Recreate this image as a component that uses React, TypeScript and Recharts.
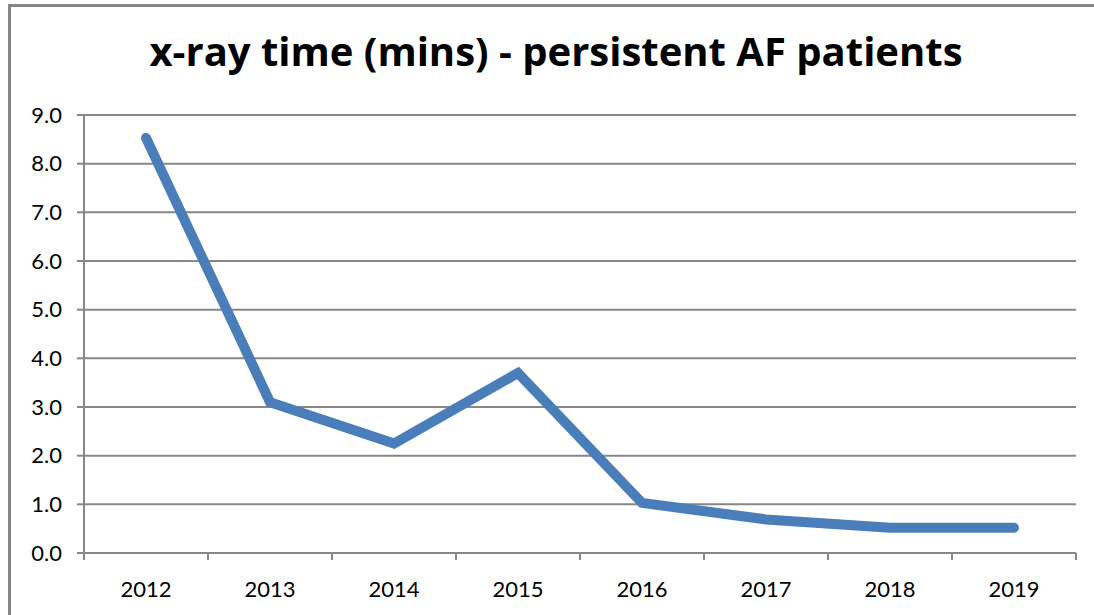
import { LineChart, Line, XAxis, YAxis, CartesianGrid } from 'recharts'

const years = ['2012', '2013', '2014', '2015', '2016', '2017', '2018', '2019']
const xrayMins = [8.53, 3.1, 2.25, 3.7, 1.03, 0.69, 0.52, 0.52]
const yTicks = [0, 1, 2, 3, 4, 5, 6, 7, 8, 9]

const data = years.map((y, i) => ({ year: y, mins: xrayMins[i] }))

const GRAY = '#878787'
const FONT = 'Lato, "Open Sans", sans-serif'

// category label plus tick marks on the band edges (Excel style)
const YearTick = (props: any) => {
  const { x, y, payload, index } = props
  const half = payload?.offset ?? 0
  const axisY = y - 28
  return (
    <g>
      <line x1={x - half} x2={x - half} y1={axisY} y2={axisY + 7} stroke={GRAY} strokeWidth={2} />
      {index === years.length - 1 && (
        <line x1={x + half} x2={x + half} y1={axisY} y2={axisY + 7} stroke={GRAY} strokeWidth={2} />
      )}
      <text x={x} y={y} dy="0.71em" textAnchor="middle" fill="#000" fontSize={22} fontFamily={FONT}>
        {payload.value}
      </text>
    </g>
  )
}

export default function App() {
  return (
    <div style={{ position: 'absolute', left: 0, top: 0, width: 1094, height: 615, overflow: 'hidden', background: '#fff' }}>
      {/* outer frame */}
      <div style={{ position: 'absolute', left: 8, top: 4, width: 1110, height: 640, border: `3px solid ${GRAY}`, boxSizing: 'border-box' }} />
      <div
        style={{
          position: 'absolute',
          left: 0,
          width: 1112,
          top: 23,
          textAlign: 'center',
          fontFamily: '"Open Sans", sans-serif',
          fontWeight: 700,
          fontSize: 40,
          color: '#000',
        }}
      >
        x-ray time (mins) - persistent AF patients
      </div>
      <div style={{ position: 'absolute', left: 0, top: 0 }}>
        <LineChart width={1094} height={615} data={data} margin={{ top: 115, right: 18, left: 14, bottom: 22 }}>
          <CartesianGrid vertical={false} stroke={GRAY} strokeWidth={2} />
          <XAxis
            dataKey="year"
            scale="band"
            interval={0}
            axisLine={{ stroke: GRAY, strokeWidth: 2 }}
            tickLine={false}
            tickSize={7}
            tickMargin={21}
            height={40}
            tick={<YearTick />}
          />
          <YAxis
            domain={[0, 9]}
            ticks={yTicks}
            interval={0}
            width={70}
            tickFormatter={(v: number) => v.toFixed(1)}
            axisLine={{ stroke: GRAY, strokeWidth: 2 }}
            tickLine={{ stroke: GRAY, strokeWidth: 2 }}
            tickSize={7}
            tickMargin={15}
            tick={{ fill: '#000', fontSize: 22, fontFamily: FONT }}
          />
          <Line
            dataKey="mins"
            stroke="#4a7ebb"
            strokeWidth={10}
            strokeLinecap="round"
            strokeLinejoin="miter"
            dot={false}
            activeDot={false}
            isAnimationActive={false}
            type="linear"
          />
        </LineChart>
      </div>
    </div>
  )
}
